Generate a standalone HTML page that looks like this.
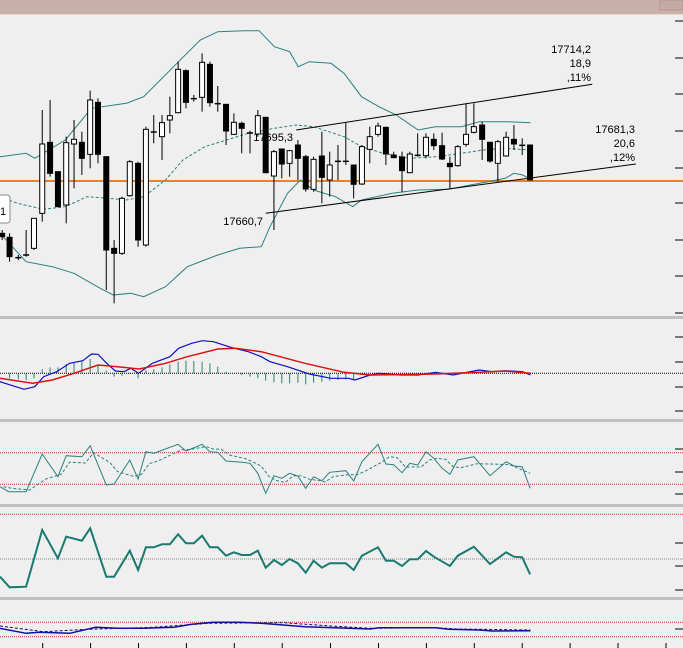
<!DOCTYPE html>
<html><head><meta charset="utf-8">
<style>
html,body{margin:0;padding:0;background:#efefef;}
svg{display:block;font-family:"Liberation Sans",sans-serif;}
</style></head>
<body>
<svg id="s" width="683" height="648" xmlns="http://www.w3.org/2000/svg">
<rect width="683" height="648" fill="#efefef"/>
<rect width="683" height="14" fill="#c9b0a8"/>
<rect y="14" width="683" height="1" fill="#e8d8d4"/>
<rect x="660" y="0" width="23" height="10" fill="#c4aaa2" stroke="#b09890"/>
<g fill="#c0c0c0">
<rect y="316" width="683" height="3"/>
<rect y="419" width="683" height="3"/>
<rect y="504" width="683" height="3"/>
<rect y="597" width="683" height="3"/>
</g>
<g id="g"></g>
<g font-size="11" fill="#000" text-anchor="end">
<text x="591" y="53">17714,2</text>
<text x="591" y="67">18,9</text>
<text x="591" y="81">,11%</text>
<text x="635" y="133">17681,3</text>
<text x="635" y="147">20,6</text>
<text x="635" y="161">,12%</text>
<text x="293" y="141">17695,3</text>
<text x="263" y="225">17660,7</text>
</g>
<rect x="-6" y="195" width="16" height="28" rx="3" fill="#fff" stroke="#888"/>
<text x="0" y="215" font-size="11">1</text>
</svg>
<script>
const NS="http://www.w3.org/2000/svg",g=document.getElementById('g');
function el(t,a){const e=document.createElementNS(NS,t);for(const k in a)e.setAttribute(k,a[k]);g.appendChild(e);return e;}
const X=z=>z/2.296;
function pl(pts,off,stroke,w,dash){el('polyline',{points:pts.map(p=>X(p[0]).toFixed(1)+','+(off+p[1]/3).toFixed(1)).join(' '),fill:'none',stroke:stroke,'stroke-width':w,'stroke-dasharray':dash||'none'});}
el('line',{x1:0,y1:181,x2:683,y2:181,stroke:'#f08020','stroke-width':2});
pl([[0,470],[60,460],[80,475],[150,420],[210,325],[290,310],[330,290],[410,185],[460,120],[500,95],[560,92],[595,92],[630,140],[665,155],[685,200],[710,185],[760,190],[790,220],[830,290],[870,320],[910,345],[960,390],[1000,380],[1060,380],[1100,365],[1160,365],[1218,368]],0,'#2a8080',1);
pl([[0,590],[40,610],[100,628],[150,620],[200,590],[250,595],[290,600],[330,590],[380,540],[420,480],[470,440],[520,420],[570,400],[630,385],[680,375],[720,380],[790,410],[830,440],[880,460],[940,475],[1000,470],[1060,460],[1110,450],[1160,445],[1218,450]],0,'#2a8080',1,'3,2');
pl([[0,700],[60,785],[120,800],[170,820],[230,865],[260,885],[300,880],[330,890],[380,860],[430,800],[470,780],[500,765],[550,745],[600,740],[620,680],[660,580],[690,540],[720,570],[770,590],[810,620],[830,600],[900,580],[960,570],[1030,568],[1080,555],[1120,545],[1160,535],[1180,520],[1200,525],[1218,537]],0,'#2a8080',1);
pl([[680,390],[1360,253]],0,'#000',1);
pl([[610,640],[1460,492]],0,'#000',1);
const C=[[5,700,710,690,720,'b'],[22,712,770,700,785,'b'],[42,773,775,765,780,'d'],[60,765,767,690,770,'d'],[78,655,745,655,750,'w'],[97,432,640,330,665,'w'],[115,427,520,300,530,'b'],[133,515,620,515,620,'b'],[152,428,615,410,670,'w'],[170,418,432,360,565,'w'],[188,427,475,395,525,'b'],[207,300,463,272,505,'w'],[225,307,463,295,490,'b'],[244,470,750,470,870,'b'],[262,745,760,720,910,'b'],[280,595,760,590,765,'w'],[298,485,587,480,590,'w'],[317,490,720,485,740,'b'],[335,388,735,380,740,'w'],[353,396,398,345,430,'d'],[372,368,410,345,480,'w'],[390,347,360,290,400,'w'],[409,208,338,185,340,'w'],[427,212,307,208,325,'b'],[445,296,298,285,305,'d'],[464,187,292,160,335,'w'],[482,193,308,185,320,'b'],[500,311,313,258,335,'d'],[519,313,393,313,435,'b'],[537,367,403,340,405,'w'],[555,370,385,365,460,'b'],[574,399,401,392,460,'d'],[592,347,402,330,410,'w'],[610,352,518,352,520,'b'],[629,455,528,450,690,'w'],[647,447,492,447,535,'b'],[665,452,490,450,530,'w'],[684,435,475,420,540,'b'],[702,470,567,465,575,'b'],[720,478,568,470,575,'w'],[739,468,532,395,610,'b'],[757,495,540,455,590,'w'],[776,484,486,435,540,'d'],[794,484,486,368,495,'d'],[812,495,553,495,595,'b'],[831,440,552,435,555,'w'],[849,410,448,380,490,'w'],[868,378,403,368,410,'w'],[886,382,462,380,495,'b'],[904,465,473,455,475,'b'],[923,471,512,455,577,'b'],[941,462,518,455,520,'w'],[959,466,468,400,470,'d'],[978,412,467,400,475,'w'],[996,418,437,400,450,'b'],[1015,437,477,398,480,'b'],[1033,490,500,470,565,'b'],[1051,440,497,435,500,'w'],[1070,403,433,310,440,'w'],[1088,380,397,310,400,'w'],[1107,375,418,365,480,'b'],[1125,427,483,425,488,'b'],[1143,425,490,420,545,'w'],[1162,412,468,395,470,'w'],[1180,418,432,375,450,'b'],[1199,436,438,415,465,'d'],[1217,435,540,435,540,'b']];
C.forEach(c=>{const x=X(c[0]);el('line',{x1:x,y1:c[3]/3,x2:x,y2:c[4]/3,stroke:'#000','stroke-width':1});
if(c[5]=='d'){el('line',{x1:x-3,y1:c[1]/3,x2:x+3,y2:c[1]/3,stroke:'#000','stroke-width':1.5});}
else el('rect',{x:x-2.5,y:c[1]/3,width:5,height:Math.max(1,(c[2]-c[1])/3),fill:c[5]=='w'?'#fff':'#000',stroke:'#000','stroke-width':1});});
[21,58,94,131,168,203,240,276,313,337,362,387,411,449,472,494,543,566,590,629].forEach(y=>el('line',{x1:675,y1:y,x2:683,y2:y,stroke:'#000','stroke-width':1}));
[42.7,90.6,138.5,186.4,234.3,282.2,330.5,378.5,426.4,474.3,522.2,570.1,618,666].forEach(x=>el('line',{x1:x,y1:643,x2:x,y2:648,stroke:'#000','stroke-width':1}));
el('line',{x1:0,y1:373.3,x2:683,y2:373.3,stroke:'#000','stroke-width':1,'stroke-dasharray':'1,1'});
const H=[[22,205],[42,208],[60,210],[78,205],[97,177],[115,172],[133,172],[152,162],[170,158],[188,152],[207,147],[225,165],[244,182],[262,200],[280,197],[298,192],[317,205],[335,180],[353,178],[372,172],[390,163],[409,155],[427,152],[445,153],[464,155],[482,160],[500,170],[519,185],[555,195],[574,200],[592,205],[610,212],[629,217],[647,220],[665,220],[684,218],[702,223],[720,218],[739,215],[757,212],[776,210],[794,208],[812,210]];
H.forEach(h=>{const x=X(h[0]);el('line',{x1:x,y1:373.3,x2:x,y2:310+h[1]/3,stroke:'#2a8070','stroke-width':1});});
pl([[0,215],[55,238],[80,230],[100,200],[130,185],[160,160],[190,152],[210,132],[225,133],[245,160],[265,183],[285,185],[300,175],[318,190],[350,160],[390,140],[410,115],[440,100],[465,92],[490,95],[530,112],[570,125],[600,140],[620,155],[660,170],[710,192],[760,205],[800,205],[815,210],[850,195],[870,190],[920,195],[960,195],[1000,187],[1040,195],[1100,180],[1130,185],[1160,182],[1200,185],[1218,195]],310,'#1010c0',1.2);
pl([[0,205],[75,220],[120,210],[170,190],[225,165],[270,170],[320,177],[380,160],[430,140],[500,117],[540,115],[600,125],[700,160],[790,187],[850,195],[1000,192],[1100,187],[1160,183],[1218,190]],310,'#e01010',1.5);
el('line',{x1:0,y1:452.7,x2:683,y2:452.7,stroke:'#e02020','stroke-width':1,'stroke-dasharray':'1,1'});
el('line',{x1:0,y1:484.3,x2:683,y2:484.3,stroke:'#e02020','stroke-width':1,'stroke-dasharray':'1,1'});
const S=[[0,530],[20,545],[60,545],[97,432],[133,500],[152,437],[188,440],[207,407],[244,525],[262,522],[298,450],[317,507],[335,425],[353,430],[409,403],[427,423],[464,403],[482,425],[500,427],[519,453],[555,457],[574,460],[592,490],[610,550],[629,497],[647,505],[665,490],[684,498],[702,535],[720,500],[739,512],[757,487],[794,482],[812,513],[831,455],[868,403],[886,462],[904,464],[923,488],[941,460],[959,465],[978,425],[996,445],[1015,475],[1033,493],[1051,450],[1088,440],[1125,497],[1162,455],[1180,468],[1199,470],[1217,535]];
pl(S,310,'#2a8080',1);
const SD=S.map((p,i)=>{const a=S[Math.max(0,i-1)][1],b=S[Math.max(0,i-2)][1];return[p[0]+8,(p[1]+a+b)/3];}).slice(0,-1);
SD[SD.length-1]=[1217,490];
pl(SD,310,'#2a8080',1,'3,2');
el('line',{x1:0,y1:514.3,x2:683,y2:514.3,stroke:'#e02020','stroke-width':1,'stroke-dasharray':'1,1'});
el('line',{x1:0,y1:559,x2:683,y2:559,stroke:'#808080','stroke-width':1,'stroke-dasharray':'1,1'});
pl([[0,800],[22,832],[60,830],[97,660],[133,745],[152,680],[188,692],[207,655],[244,800],[262,800],[298,722],[317,780],[335,712],[353,712],[372,703],[390,703],[409,673],[427,700],[445,700],[464,677],[482,712],[500,712],[519,737],[537,727],[555,735],[574,735],[592,722],[610,773],[629,750],[647,765],[665,747],[684,760],[702,788],[720,752],[739,773],[757,760],[794,760],[812,780],[831,737],[868,712],[886,752],[904,752],[923,768],[941,748],[959,748],[978,723],[996,740],[1033,768],[1051,737],[1088,710],[1125,762],[1162,727],[1180,740],[1199,742],[1217,793]],310,'#1a7a70',2);
el('line',{x1:0,y1:622.3,x2:683,y2:622.3,stroke:'#e02020','stroke-width':1,'stroke-dasharray':'1,1'});
el('line',{x1:0,y1:636.7,x2:683,y2:636.7,stroke:'#e02020','stroke-width':1,'stroke-dasharray':'1,1'});
pl([[0,948],[100,965],[200,958],[350,952],[480,940],[650,938],[760,948],[850,955],[1000,953],[1050,957],[1218,960]],310,'#101060',1,'3,2');
pl([[0,955],[60,970],[90,967],[160,970],[220,952],[270,955],[330,955],[400,952],[440,943],[490,937],[550,937],[600,940],[700,950],[800,955],[850,957],[870,953],[1000,953],[1030,958],[1100,960],[1130,963],[1218,962]],310,'#1010a0',1.5);
</script>
</body></html>
